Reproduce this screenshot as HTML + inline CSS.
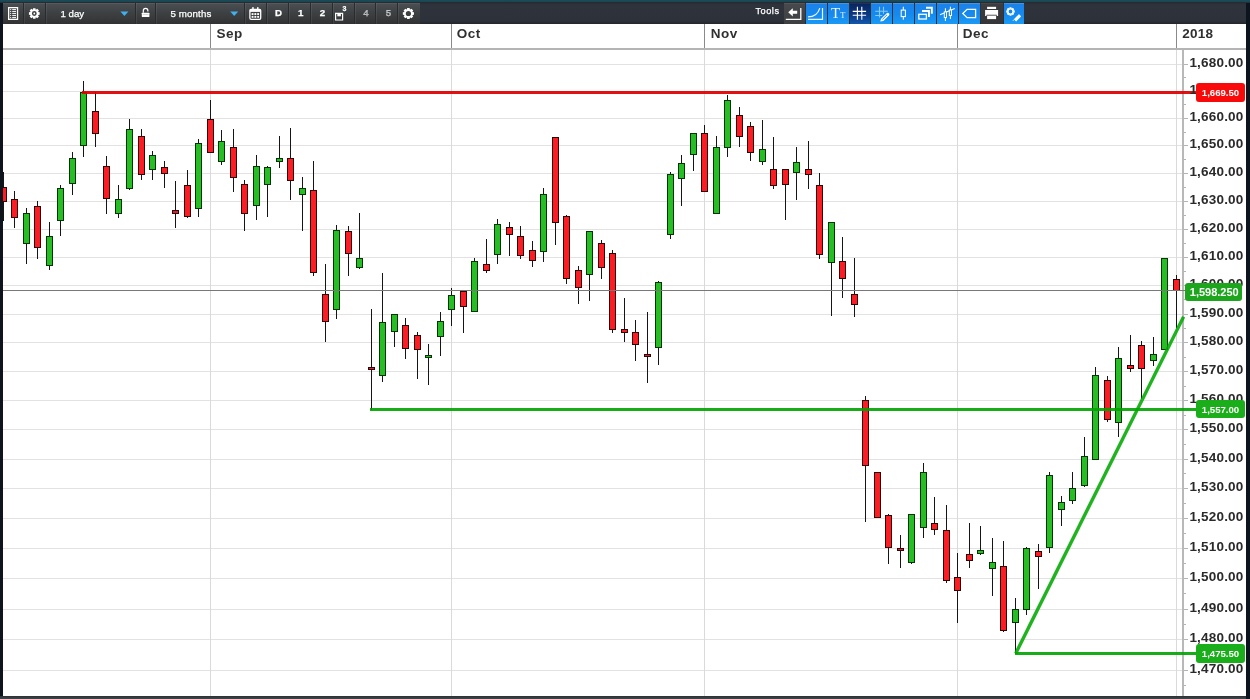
<!DOCTYPE html>
<html><head><meta charset="utf-8"><title>chart</title>
<style>
html,body{margin:0;padding:0}
#all{position:absolute;left:0;top:0;width:1250px;height:699px;will-change:transform}
body{width:1250px;height:699px;overflow:hidden;position:relative;background:#0d141d;font-family:"Liberation Sans",sans-serif}
#chart{position:absolute;left:3px;top:24px;width:1243px;height:672px;background:#fff}
#svg{position:absolute;left:0;top:0}
.ax{position:absolute;left:1189.4px;font-size:13.5px;font-weight:bold;color:#2a2a2a;letter-spacing:.2px;line-height:16px;white-space:nowrap}
.mo{position:absolute;top:26.3px;letter-spacing:.5px;font-size:13.5px;font-weight:bold;color:#303030;line-height:16px}
.tag{position:absolute;color:#fff;font-weight:bold;border-radius:3px;text-align:center;white-space:nowrap}
#top{position:absolute;left:0;top:0;width:1250px;height:3px;background:linear-gradient(#1c4c58 0,#1a4652 55%,#20272c 100%)}
#tb{position:absolute;left:3px;top:2px;width:1243px;height:22px;background:linear-gradient(#262a31 0,#2f333c 3px,#2d313a 19px,#22252b 22px)}
#tbl{position:absolute;left:0;top:1px;width:417px;height:21px;background:linear-gradient(#5b6063 0,#4a4e51 1.5px,#404345 40%,#37393b 75%,#303133 100%)}
.sep{position:absolute;top:1px;width:1px;height:21px;background:#2a2b2d;box-shadow:1px 0 0 rgba(255,255,255,.07)}
.tx{position:absolute;color:#fff;-webkit-text-stroke:.25px #fff;font-size:9.7px;line-height:12px;white-space:nowrap}
.btn{position:absolute;top:1px;height:20.6px;width:21px;background:linear-gradient(#2ea3ef,#0b84de)}
  .tt{position:absolute;color:#fff;font-family:'Liberation Serif',serif;font-size:15px;line-height:16px;opacity:.92}
.tt span{font-size:8.4px}
#bot{position:absolute;left:0;top:696px;width:1246px;height:3px;background:linear-gradient(#2b2e33,#43464b)}
</style></head><body><div id="all">
<div id="top"></div>
<div id="chart"></div>
<svg id="svg" width="1250" height="699" viewBox="0 0 1250 699" shape-rendering="crispEdges">
<defs><clipPath id="cp"><rect x="3" y="24" width="1243" height="672"/></clipPath></defs><g clip-path="url(#cp)"><rect x="3" y="670" width="1179" height="1" fill="#e2e2e2"/>
<rect x="3" y="639" width="1179" height="1" fill="#e2e2e2"/>
<rect x="3" y="609" width="1179" height="1" fill="#e2e2e2"/>
<rect x="3" y="578" width="1179" height="1" fill="#e2e2e2"/>
<rect x="3" y="548" width="1179" height="1" fill="#e2e2e2"/>
<rect x="3" y="518" width="1179" height="1" fill="#e2e2e2"/>
<rect x="3" y="488" width="1179" height="1" fill="#e2e2e2"/>
<rect x="3" y="459" width="1179" height="1" fill="#e2e2e2"/>
<rect x="3" y="429" width="1179" height="1" fill="#e2e2e2"/>
<rect x="3" y="400" width="1179" height="1" fill="#e2e2e2"/>
<rect x="3" y="371" width="1179" height="1" fill="#e2e2e2"/>
<rect x="3" y="342" width="1179" height="1" fill="#e2e2e2"/>
<rect x="3" y="314" width="1179" height="1" fill="#e2e2e2"/>
<rect x="3" y="285" width="1179" height="1" fill="#e2e2e2"/>
<rect x="3" y="257" width="1179" height="1" fill="#e2e2e2"/>
<rect x="3" y="229" width="1179" height="1" fill="#e2e2e2"/>
<rect x="3" y="201" width="1179" height="1" fill="#e2e2e2"/>
<rect x="3" y="173" width="1179" height="1" fill="#e2e2e2"/>
<rect x="3" y="145" width="1179" height="1" fill="#e2e2e2"/>
<rect x="3" y="118" width="1179" height="1" fill="#e2e2e2"/>
<rect x="3" y="91" width="1179" height="1" fill="#e2e2e2"/>
<rect x="3" y="64" width="1179" height="1" fill="#e2e2e2"/>
<rect x="210" y="24" width="1" height="24" fill="#8a8a8a"/>
<rect x="210" y="50" width="1" height="646" fill="#dadada"/>
<rect x="451" y="24" width="1" height="24" fill="#8a8a8a"/>
<rect x="451" y="50" width="1" height="646" fill="#dadada"/>
<rect x="704" y="24" width="1" height="24" fill="#8a8a8a"/>
<rect x="704" y="50" width="1" height="646" fill="#dadada"/>
<rect x="957" y="24" width="1" height="24" fill="#8a8a8a"/>
<rect x="957" y="50" width="1" height="646" fill="#dadada"/>
<rect x="1176" y="24" width="1" height="24" fill="#8a8a8a"/>
<rect x="1176" y="50" width="1" height="646" fill="#dadada"/>
<rect x="3" y="48" width="1243" height="2" fill="#b4b4b4"/>
<rect x="1182" y="50" width="2" height="646" fill="#b8b8b8"/>
<rect x="1184" y="685" width="2" height="1" fill="#b4b4b4"/>
<rect x="1184" y="670" width="4" height="1" fill="#b4b4b4"/>
<rect x="1184" y="654" width="2" height="1" fill="#b4b4b4"/>
<rect x="1184" y="639" width="4" height="1" fill="#b4b4b4"/>
<rect x="1184" y="624" width="2" height="1" fill="#b4b4b4"/>
<rect x="1184" y="609" width="4" height="1" fill="#b4b4b4"/>
<rect x="1184" y="593" width="2" height="1" fill="#b4b4b4"/>
<rect x="1184" y="578" width="4" height="1" fill="#b4b4b4"/>
<rect x="1184" y="563" width="2" height="1" fill="#b4b4b4"/>
<rect x="1184" y="548" width="4" height="1" fill="#b4b4b4"/>
<rect x="1184" y="533" width="2" height="1" fill="#b4b4b4"/>
<rect x="1184" y="518" width="4" height="1" fill="#b4b4b4"/>
<rect x="1184" y="503" width="2" height="1" fill="#b4b4b4"/>
<rect x="1184" y="488" width="4" height="1" fill="#b4b4b4"/>
<rect x="1184" y="473" width="2" height="1" fill="#b4b4b4"/>
<rect x="1184" y="459" width="4" height="1" fill="#b4b4b4"/>
<rect x="1184" y="444" width="2" height="1" fill="#b4b4b4"/>
<rect x="1184" y="429" width="4" height="1" fill="#b4b4b4"/>
<rect x="1184" y="415" width="2" height="1" fill="#b4b4b4"/>
<rect x="1184" y="400" width="4" height="1" fill="#b4b4b4"/>
<rect x="1184" y="386" width="2" height="1" fill="#b4b4b4"/>
<rect x="1184" y="371" width="4" height="1" fill="#b4b4b4"/>
<rect x="1184" y="357" width="2" height="1" fill="#b4b4b4"/>
<rect x="1184" y="342" width="4" height="1" fill="#b4b4b4"/>
<rect x="1184" y="328" width="2" height="1" fill="#b4b4b4"/>
<rect x="1184" y="314" width="4" height="1" fill="#b4b4b4"/>
<rect x="1184" y="299" width="2" height="1" fill="#b4b4b4"/>
<rect x="1184" y="285" width="4" height="1" fill="#b4b4b4"/>
<rect x="1184" y="271" width="2" height="1" fill="#b4b4b4"/>
<rect x="1184" y="257" width="4" height="1" fill="#b4b4b4"/>
<rect x="1184" y="243" width="2" height="1" fill="#b4b4b4"/>
<rect x="1184" y="229" width="4" height="1" fill="#b4b4b4"/>
<rect x="1184" y="215" width="2" height="1" fill="#b4b4b4"/>
<rect x="1184" y="201" width="4" height="1" fill="#b4b4b4"/>
<rect x="1184" y="187" width="2" height="1" fill="#b4b4b4"/>
<rect x="1184" y="173" width="4" height="1" fill="#b4b4b4"/>
<rect x="1184" y="159" width="2" height="1" fill="#b4b4b4"/>
<rect x="1184" y="145" width="4" height="1" fill="#b4b4b4"/>
<rect x="1184" y="132" width="2" height="1" fill="#b4b4b4"/>
<rect x="1184" y="118" width="4" height="1" fill="#b4b4b4"/>
<rect x="1184" y="104" width="2" height="1" fill="#b4b4b4"/>
<rect x="1184" y="91" width="4" height="1" fill="#b4b4b4"/>
<rect x="1184" y="77" width="2" height="1" fill="#b4b4b4"/>
<rect x="1184" y="64" width="4" height="1" fill="#b4b4b4"/>
<rect x="3" y="172" width="1" height="49" fill="#151515"/>
<rect x="0" y="187" width="7" height="15" fill="#300505"/>
<rect x="1" y="188" width="5" height="13" fill="#fb1c24"/>
<rect x="14" y="191" width="1" height="37" fill="#151515"/>
<rect x="11" y="199" width="7" height="19" fill="#300505"/>
<rect x="12" y="200" width="5" height="17" fill="#fb1c24"/>
<rect x="26" y="208" width="1" height="56" fill="#151515"/>
<rect x="23" y="213" width="7" height="31" fill="#063606"/>
<rect x="24" y="214" width="5" height="29" fill="#27bd25"/>
<rect x="37" y="201" width="1" height="58" fill="#151515"/>
<rect x="34" y="206" width="7" height="42" fill="#300505"/>
<rect x="35" y="207" width="5" height="40" fill="#fb1c24"/>
<rect x="49" y="222" width="1" height="48" fill="#151515"/>
<rect x="46" y="236" width="7" height="30" fill="#063606"/>
<rect x="47" y="237" width="5" height="28" fill="#27bd25"/>
<rect x="60" y="185" width="1" height="51" fill="#151515"/>
<rect x="57" y="188" width="7" height="33" fill="#063606"/>
<rect x="58" y="189" width="5" height="31" fill="#27bd25"/>
<rect x="72" y="152" width="1" height="43" fill="#151515"/>
<rect x="69" y="158" width="7" height="26" fill="#063606"/>
<rect x="70" y="159" width="5" height="24" fill="#27bd25"/>
<rect x="83" y="81" width="1" height="76" fill="#151515"/>
<rect x="80" y="92" width="7" height="54" fill="#063606"/>
<rect x="81" y="93" width="5" height="52" fill="#27bd25"/>
<rect x="95" y="92" width="1" height="55" fill="#151515"/>
<rect x="92" y="111" width="7" height="23" fill="#300505"/>
<rect x="93" y="112" width="5" height="21" fill="#fb1c24"/>
<rect x="106" y="156" width="1" height="58" fill="#151515"/>
<rect x="103" y="166" width="7" height="33" fill="#300505"/>
<rect x="104" y="167" width="5" height="31" fill="#fb1c24"/>
<rect x="118" y="185" width="1" height="33" fill="#151515"/>
<rect x="115" y="199" width="7" height="15" fill="#063606"/>
<rect x="116" y="200" width="5" height="13" fill="#27bd25"/>
<rect x="129" y="119" width="1" height="71" fill="#151515"/>
<rect x="126" y="129" width="7" height="60" fill="#063606"/>
<rect x="127" y="130" width="5" height="58" fill="#27bd25"/>
<rect x="141" y="129" width="1" height="51" fill="#151515"/>
<rect x="138" y="136" width="7" height="39" fill="#300505"/>
<rect x="139" y="137" width="5" height="37" fill="#fb1c24"/>
<rect x="152" y="151" width="1" height="29" fill="#151515"/>
<rect x="149" y="155" width="7" height="15" fill="#063606"/>
<rect x="150" y="156" width="5" height="13" fill="#27bd25"/>
<rect x="164" y="161" width="1" height="27" fill="#151515"/>
<rect x="161" y="167" width="7" height="7" fill="#300505"/>
<rect x="162" y="168" width="5" height="5" fill="#fb1c24"/>
<rect x="175" y="181" width="1" height="47" fill="#151515"/>
<rect x="172" y="210" width="7" height="4" fill="#300505"/>
<rect x="173" y="211" width="5" height="2" fill="#d0223a"/>
<rect x="187" y="170" width="1" height="48" fill="#151515"/>
<rect x="184" y="185" width="7" height="32" fill="#300505"/>
<rect x="185" y="186" width="5" height="30" fill="#fb1c24"/>
<rect x="198" y="139" width="1" height="78" fill="#151515"/>
<rect x="195" y="143" width="7" height="66" fill="#063606"/>
<rect x="196" y="144" width="5" height="64" fill="#27bd25"/>
<rect x="210" y="100" width="1" height="53" fill="#151515"/>
<rect x="207" y="119" width="7" height="34" fill="#300505"/>
<rect x="208" y="120" width="5" height="32" fill="#fb1c24"/>
<rect x="221" y="130" width="1" height="35" fill="#151515"/>
<rect x="218" y="141" width="7" height="21" fill="#063606"/>
<rect x="219" y="142" width="5" height="19" fill="#27bd25"/>
<rect x="233" y="129" width="1" height="63" fill="#151515"/>
<rect x="230" y="147" width="7" height="31" fill="#300505"/>
<rect x="231" y="148" width="5" height="29" fill="#fb1c24"/>
<rect x="244" y="180" width="1" height="51" fill="#151515"/>
<rect x="241" y="184" width="7" height="30" fill="#300505"/>
<rect x="242" y="185" width="5" height="28" fill="#fb1c24"/>
<rect x="256" y="155" width="1" height="65" fill="#151515"/>
<rect x="253" y="166" width="7" height="40" fill="#063606"/>
<rect x="254" y="167" width="5" height="38" fill="#27bd25"/>
<rect x="267" y="166" width="1" height="51" fill="#151515"/>
<rect x="264" y="167" width="7" height="18" fill="#063606"/>
<rect x="265" y="168" width="5" height="16" fill="#27bd25"/>
<rect x="279" y="136" width="1" height="32" fill="#151515"/>
<rect x="276" y="158" width="7" height="4" fill="#063606"/>
<rect x="277" y="159" width="5" height="2" fill="#27bd25"/>
<rect x="290" y="128" width="1" height="72" fill="#151515"/>
<rect x="287" y="158" width="7" height="23" fill="#300505"/>
<rect x="288" y="159" width="5" height="21" fill="#fb1c24"/>
<rect x="302" y="177" width="1" height="54" fill="#151515"/>
<rect x="299" y="188" width="7" height="7" fill="#063606"/>
<rect x="300" y="189" width="5" height="5" fill="#27bd25"/>
<rect x="313" y="161" width="1" height="115" fill="#151515"/>
<rect x="310" y="190" width="7" height="83" fill="#300505"/>
<rect x="311" y="191" width="5" height="81" fill="#fb1c24"/>
<rect x="325" y="264" width="1" height="78" fill="#151515"/>
<rect x="322" y="294" width="7" height="28" fill="#300505"/>
<rect x="323" y="295" width="5" height="26" fill="#fb1c24"/>
<rect x="336" y="225" width="1" height="94" fill="#151515"/>
<rect x="333" y="230" width="7" height="80" fill="#063606"/>
<rect x="334" y="231" width="5" height="78" fill="#27bd25"/>
<rect x="348" y="226" width="1" height="50" fill="#151515"/>
<rect x="345" y="231" width="7" height="23" fill="#300505"/>
<rect x="346" y="232" width="5" height="21" fill="#fb1c24"/>
<rect x="359" y="213" width="1" height="56" fill="#151515"/>
<rect x="356" y="258" width="7" height="10" fill="#063606"/>
<rect x="357" y="259" width="5" height="8" fill="#27bd25"/>
<rect x="371" y="309" width="1" height="101" fill="#151515"/>
<rect x="368" y="367" width="7" height="3" fill="#300505"/>
<rect x="369" y="368" width="5" height="1" fill="#d0223a"/>
<rect x="382" y="273" width="1" height="109" fill="#151515"/>
<rect x="379" y="322" width="7" height="54" fill="#063606"/>
<rect x="380" y="323" width="5" height="52" fill="#27bd25"/>
<rect x="394" y="314" width="1" height="33" fill="#151515"/>
<rect x="391" y="314" width="7" height="18" fill="#063606"/>
<rect x="392" y="315" width="5" height="16" fill="#27bd25"/>
<rect x="405" y="318" width="1" height="41" fill="#151515"/>
<rect x="402" y="325" width="7" height="24" fill="#300505"/>
<rect x="403" y="326" width="5" height="22" fill="#fb1c24"/>
<rect x="417" y="332" width="1" height="47" fill="#151515"/>
<rect x="414" y="335" width="7" height="15" fill="#300505"/>
<rect x="415" y="336" width="5" height="13" fill="#fb1c24"/>
<rect x="428" y="344" width="1" height="41" fill="#151515"/>
<rect x="425" y="355" width="7" height="3" fill="#063606"/>
<rect x="426" y="356" width="5" height="1" fill="#27bd25"/>
<rect x="440" y="312" width="1" height="44" fill="#151515"/>
<rect x="437" y="321" width="7" height="16" fill="#063606"/>
<rect x="438" y="322" width="5" height="14" fill="#27bd25"/>
<rect x="451" y="288" width="1" height="38" fill="#151515"/>
<rect x="448" y="295" width="7" height="15" fill="#063606"/>
<rect x="449" y="296" width="5" height="13" fill="#27bd25"/>
<rect x="463" y="290" width="1" height="43" fill="#151515"/>
<rect x="460" y="291" width="7" height="16" fill="#300505"/>
<rect x="461" y="292" width="5" height="14" fill="#fb1c24"/>
<rect x="474" y="258" width="1" height="54" fill="#151515"/>
<rect x="471" y="261" width="7" height="51" fill="#063606"/>
<rect x="472" y="262" width="5" height="49" fill="#27bd25"/>
<rect x="486" y="239" width="1" height="34" fill="#151515"/>
<rect x="483" y="264" width="7" height="7" fill="#300505"/>
<rect x="484" y="265" width="5" height="5" fill="#fb1c24"/>
<rect x="497" y="219" width="1" height="45" fill="#151515"/>
<rect x="494" y="224" width="7" height="31" fill="#063606"/>
<rect x="495" y="225" width="5" height="29" fill="#27bd25"/>
<rect x="509" y="222" width="1" height="34" fill="#151515"/>
<rect x="506" y="227" width="7" height="8" fill="#300505"/>
<rect x="507" y="228" width="5" height="6" fill="#fb1c24"/>
<rect x="520" y="226" width="1" height="33" fill="#151515"/>
<rect x="517" y="236" width="7" height="20" fill="#300505"/>
<rect x="518" y="237" width="5" height="18" fill="#fb1c24"/>
<rect x="532" y="241" width="1" height="26" fill="#151515"/>
<rect x="529" y="250" width="7" height="11" fill="#300505"/>
<rect x="530" y="251" width="5" height="9" fill="#fb1c24"/>
<rect x="543" y="188" width="1" height="74" fill="#151515"/>
<rect x="540" y="194" width="7" height="58" fill="#063606"/>
<rect x="541" y="195" width="5" height="56" fill="#27bd25"/>
<rect x="555" y="137" width="1" height="108" fill="#151515"/>
<rect x="552" y="137" width="7" height="86" fill="#300505"/>
<rect x="553" y="138" width="5" height="84" fill="#fb1c24"/>
<rect x="566" y="215" width="1" height="69" fill="#151515"/>
<rect x="563" y="216" width="7" height="63" fill="#300505"/>
<rect x="564" y="217" width="5" height="61" fill="#fb1c24"/>
<rect x="578" y="266" width="1" height="38" fill="#151515"/>
<rect x="575" y="270" width="7" height="18" fill="#300505"/>
<rect x="576" y="271" width="5" height="16" fill="#fb1c24"/>
<rect x="589" y="231" width="1" height="70" fill="#151515"/>
<rect x="586" y="231" width="7" height="44" fill="#063606"/>
<rect x="587" y="232" width="5" height="42" fill="#27bd25"/>
<rect x="601" y="240" width="1" height="39" fill="#151515"/>
<rect x="598" y="243" width="7" height="25" fill="#300505"/>
<rect x="599" y="244" width="5" height="23" fill="#fb1c24"/>
<rect x="612" y="250" width="1" height="83" fill="#151515"/>
<rect x="609" y="253" width="7" height="77" fill="#300505"/>
<rect x="610" y="254" width="5" height="75" fill="#fb1c24"/>
<rect x="624" y="298" width="1" height="44" fill="#151515"/>
<rect x="621" y="329" width="7" height="4" fill="#300505"/>
<rect x="622" y="330" width="5" height="2" fill="#fb1c24"/>
<rect x="635" y="320" width="1" height="41" fill="#151515"/>
<rect x="632" y="332" width="7" height="13" fill="#300505"/>
<rect x="633" y="333" width="5" height="11" fill="#fb1c24"/>
<rect x="647" y="312" width="1" height="71" fill="#151515"/>
<rect x="644" y="354" width="7" height="3" fill="#300505"/>
<rect x="645" y="355" width="5" height="1" fill="#d0223a"/>
<rect x="658" y="281" width="1" height="84" fill="#151515"/>
<rect x="655" y="282" width="7" height="66" fill="#063606"/>
<rect x="656" y="283" width="5" height="64" fill="#27bd25"/>
<rect x="670" y="172" width="1" height="67" fill="#151515"/>
<rect x="667" y="174" width="7" height="61" fill="#063606"/>
<rect x="668" y="175" width="5" height="59" fill="#27bd25"/>
<rect x="681" y="155" width="1" height="51" fill="#151515"/>
<rect x="678" y="163" width="7" height="16" fill="#063606"/>
<rect x="679" y="164" width="5" height="14" fill="#27bd25"/>
<rect x="693" y="133" width="1" height="38" fill="#151515"/>
<rect x="690" y="133" width="7" height="22" fill="#063606"/>
<rect x="691" y="134" width="5" height="20" fill="#27bd25"/>
<rect x="704" y="125" width="1" height="67" fill="#151515"/>
<rect x="701" y="133" width="7" height="59" fill="#300505"/>
<rect x="702" y="134" width="5" height="57" fill="#fb1c24"/>
<rect x="716" y="136" width="1" height="78" fill="#151515"/>
<rect x="713" y="147" width="7" height="67" fill="#063606"/>
<rect x="714" y="148" width="5" height="65" fill="#27bd25"/>
<rect x="727" y="95" width="1" height="62" fill="#151515"/>
<rect x="724" y="100" width="7" height="48" fill="#063606"/>
<rect x="725" y="101" width="5" height="46" fill="#27bd25"/>
<rect x="739" y="107" width="1" height="40" fill="#151515"/>
<rect x="736" y="115" width="7" height="22" fill="#300505"/>
<rect x="737" y="116" width="5" height="20" fill="#fb1c24"/>
<rect x="750" y="122" width="1" height="39" fill="#151515"/>
<rect x="747" y="126" width="7" height="27" fill="#300505"/>
<rect x="748" y="127" width="5" height="25" fill="#fb1c24"/>
<rect x="762" y="120" width="1" height="45" fill="#151515"/>
<rect x="759" y="149" width="7" height="13" fill="#063606"/>
<rect x="760" y="150" width="5" height="11" fill="#27bd25"/>
<rect x="773" y="137" width="1" height="52" fill="#151515"/>
<rect x="770" y="169" width="7" height="17" fill="#300505"/>
<rect x="771" y="170" width="5" height="15" fill="#fb1c24"/>
<rect x="785" y="169" width="1" height="51" fill="#151515"/>
<rect x="782" y="169" width="7" height="16" fill="#300505"/>
<rect x="783" y="170" width="5" height="14" fill="#fb1c24"/>
<rect x="796" y="147" width="1" height="53" fill="#151515"/>
<rect x="793" y="162" width="7" height="11" fill="#063606"/>
<rect x="794" y="163" width="5" height="9" fill="#27bd25"/>
<rect x="808" y="141" width="1" height="48" fill="#151515"/>
<rect x="805" y="169" width="7" height="6" fill="#300505"/>
<rect x="806" y="170" width="5" height="4" fill="#fb1c24"/>
<rect x="819" y="173" width="1" height="86" fill="#151515"/>
<rect x="816" y="185" width="7" height="70" fill="#300505"/>
<rect x="817" y="186" width="5" height="68" fill="#fb1c24"/>
<rect x="831" y="222" width="1" height="94" fill="#151515"/>
<rect x="828" y="222" width="7" height="41" fill="#063606"/>
<rect x="829" y="223" width="5" height="39" fill="#27bd25"/>
<rect x="842" y="237" width="1" height="61" fill="#151515"/>
<rect x="839" y="261" width="7" height="18" fill="#300505"/>
<rect x="840" y="262" width="5" height="16" fill="#fb1c24"/>
<rect x="854" y="258" width="1" height="59" fill="#151515"/>
<rect x="851" y="294" width="7" height="11" fill="#300505"/>
<rect x="852" y="295" width="5" height="9" fill="#fb1c24"/>
<rect x="865" y="396" width="1" height="126" fill="#151515"/>
<rect x="862" y="400" width="7" height="66" fill="#300505"/>
<rect x="863" y="401" width="5" height="64" fill="#fb1c24"/>
<rect x="877" y="472" width="1" height="46" fill="#151515"/>
<rect x="874" y="472" width="7" height="46" fill="#300505"/>
<rect x="875" y="473" width="5" height="44" fill="#fb1c24"/>
<rect x="888" y="514" width="1" height="50" fill="#151515"/>
<rect x="885" y="515" width="7" height="33" fill="#300505"/>
<rect x="886" y="516" width="5" height="31" fill="#fb1c24"/>
<rect x="900" y="535" width="1" height="33" fill="#151515"/>
<rect x="897" y="548" width="7" height="3" fill="#300505"/>
<rect x="898" y="549" width="5" height="1" fill="#d0223a"/>
<rect x="911" y="514" width="1" height="50" fill="#151515"/>
<rect x="908" y="514" width="7" height="49" fill="#063606"/>
<rect x="909" y="515" width="5" height="47" fill="#27bd25"/>
<rect x="923" y="463" width="1" height="75" fill="#151515"/>
<rect x="920" y="472" width="7" height="56" fill="#063606"/>
<rect x="921" y="473" width="5" height="54" fill="#27bd25"/>
<rect x="934" y="497" width="1" height="38" fill="#151515"/>
<rect x="931" y="523" width="7" height="7" fill="#300505"/>
<rect x="932" y="524" width="5" height="5" fill="#fb1c24"/>
<rect x="946" y="505" width="1" height="78" fill="#151515"/>
<rect x="943" y="530" width="7" height="51" fill="#300505"/>
<rect x="944" y="531" width="5" height="49" fill="#fb1c24"/>
<rect x="957" y="553" width="1" height="70" fill="#151515"/>
<rect x="954" y="577" width="7" height="14" fill="#300505"/>
<rect x="955" y="578" width="5" height="12" fill="#fb1c24"/>
<rect x="969" y="523" width="1" height="45" fill="#151515"/>
<rect x="966" y="554" width="7" height="7" fill="#300505"/>
<rect x="967" y="555" width="5" height="5" fill="#fb1c24"/>
<rect x="980" y="526" width="1" height="29" fill="#151515"/>
<rect x="977" y="550" width="7" height="4" fill="#063606"/>
<rect x="978" y="551" width="5" height="2" fill="#27bd25"/>
<rect x="992" y="538" width="1" height="58" fill="#151515"/>
<rect x="989" y="562" width="7" height="7" fill="#063606"/>
<rect x="990" y="563" width="5" height="5" fill="#27bd25"/>
<rect x="1003" y="541" width="1" height="91" fill="#151515"/>
<rect x="1000" y="566" width="7" height="65" fill="#300505"/>
<rect x="1001" y="567" width="5" height="63" fill="#fb1c24"/>
<rect x="1015" y="598" width="1" height="56" fill="#151515"/>
<rect x="1012" y="609" width="7" height="14" fill="#063606"/>
<rect x="1013" y="610" width="5" height="12" fill="#27bd25"/>
<rect x="1026" y="547" width="1" height="68" fill="#151515"/>
<rect x="1023" y="548" width="7" height="62" fill="#063606"/>
<rect x="1024" y="549" width="5" height="60" fill="#27bd25"/>
<rect x="1038" y="544" width="1" height="45" fill="#151515"/>
<rect x="1035" y="551" width="7" height="6" fill="#300505"/>
<rect x="1036" y="552" width="5" height="4" fill="#fb1c24"/>
<rect x="1049" y="472" width="1" height="81" fill="#151515"/>
<rect x="1046" y="475" width="7" height="73" fill="#063606"/>
<rect x="1047" y="476" width="5" height="71" fill="#27bd25"/>
<rect x="1061" y="496" width="1" height="30" fill="#151515"/>
<rect x="1058" y="502" width="7" height="8" fill="#063606"/>
<rect x="1059" y="503" width="5" height="6" fill="#27bd25"/>
<rect x="1072" y="472" width="1" height="32" fill="#151515"/>
<rect x="1069" y="488" width="7" height="13" fill="#063606"/>
<rect x="1070" y="489" width="5" height="11" fill="#27bd25"/>
<rect x="1084" y="437" width="1" height="50" fill="#151515"/>
<rect x="1081" y="456" width="7" height="30" fill="#063606"/>
<rect x="1082" y="457" width="5" height="28" fill="#27bd25"/>
<rect x="1095" y="367" width="1" height="93" fill="#151515"/>
<rect x="1092" y="375" width="7" height="85" fill="#063606"/>
<rect x="1093" y="376" width="5" height="83" fill="#27bd25"/>
<rect x="1107" y="376" width="1" height="46" fill="#151515"/>
<rect x="1104" y="380" width="7" height="40" fill="#300505"/>
<rect x="1105" y="381" width="5" height="38" fill="#fb1c24"/>
<rect x="1118" y="347" width="1" height="90" fill="#151515"/>
<rect x="1115" y="358" width="7" height="65" fill="#063606"/>
<rect x="1116" y="359" width="5" height="63" fill="#27bd25"/>
<rect x="1130" y="335" width="1" height="37" fill="#151515"/>
<rect x="1127" y="365" width="7" height="4" fill="#300505"/>
<rect x="1128" y="366" width="5" height="2" fill="#fb1c24"/>
<rect x="1141" y="341" width="1" height="58" fill="#151515"/>
<rect x="1138" y="345" width="7" height="24" fill="#300505"/>
<rect x="1139" y="346" width="5" height="22" fill="#fb1c24"/>
<rect x="1153" y="337" width="1" height="29" fill="#151515"/>
<rect x="1150" y="354" width="7" height="7" fill="#063606"/>
<rect x="1151" y="355" width="5" height="5" fill="#27bd25"/>
<rect x="1164" y="258" width="1" height="92" fill="#151515"/>
<rect x="1161" y="258" width="7" height="92" fill="#063606"/>
<rect x="1162" y="259" width="5" height="90" fill="#27bd25"/>
<rect x="1176" y="275" width="1" height="53" fill="#151515"/>
<rect x="1173" y="279" width="7" height="12" fill="#300505"/>
<rect x="1174" y="280" width="5" height="10" fill="#fb1c24"/>
<rect x="3" y="290" width="1182" height="1" fill="#787878"/>
<rect x="82" y="91" width="1114" height="3" fill="#e00000" fill-opacity=".93"/>
<rect x="370" y="408" width="826" height="3" fill="#00a300" fill-opacity=".9"/>
<rect x="1015" y="652" width="181" height="3" fill="#00a300" fill-opacity=".9"/>
<line x1="1015.7" y1="653.4" x2="1183.6" y2="316.8" stroke="#00a800" stroke-opacity=".88" stroke-width="3.4" stroke-linecap="butt" shape-rendering="auto"/></g>
</svg>
<div class="mo" style="left:216.6px">Sep</div>
<div class="mo" style="left:456.8px">Oct</div>
<div class="mo" style="left:710.8px">Nov</div>
<div class="mo" style="left:962.8px">Dec</div>
<div class="mo" style="left:1182.3px;letter-spacing:.2px">2018</div>
<div class="ax" style="top:660.9px">1,470.00</div>
<div class="ax" style="top:630.3px">1,480.00</div>
<div class="ax" style="top:599.9px">1,490.00</div>
<div class="ax" style="top:569.1px">1,500.00</div>
<div class="ax" style="top:539.2px">1,510.00</div>
<div class="ax" style="top:508.9px">1,520.00</div>
<div class="ax" style="top:479.4px">1,530.00</div>
<div class="ax" style="top:449.9px">1,540.00</div>
<div class="ax" style="top:420.2px">1,550.00</div>
<div class="ax" style="top:391.2px">1,560.00</div>
<div class="ax" style="top:361.9px">1,570.00</div>
<div class="ax" style="top:333.4px">1,580.00</div>
<div class="ax" style="top:304.9px">1,590.00</div>
<div class="ax" style="top:276.3px">1,600.00</div>
<div class="ax" style="top:248.2px">1,610.00</div>
<div class="ax" style="top:220.2px">1,620.00</div>
<div class="ax" style="top:192.1px">1,630.00</div>
<div class="ax" style="top:164.1px">1,640.00</div>
<div class="ax" style="top:136.3px">1,650.00</div>
<div class="ax" style="top:109.0px">1,660.00</div>
<div class="ax" style="top:81.8px">1,670.00</div>
<div class="ax" style="top:54.8px">1,680.00</div>
<div class="tag" style="left:1196px;top:83px;width:49px;height:18.5px;line-height:20px;font-size:9.6px;background:#f90a0a">1,669.50</div>
<div class="tag" style="left:1185px;top:282.5px;width:57px;height:18px;line-height:18.6px;font-size:11px;text-indent:1.5px;background:#1da51d">1,598.250</div>
<div class="tag" style="left:1196px;top:400.3px;width:49px;height:18px;line-height:19.6px;font-size:9.6px;background:#1aae1a">1,557.00</div>
<div class="tag" style="left:1196px;top:644.3px;width:49px;height:18.3px;line-height:19.6px;font-size:9.6px;background:#1aae1a">1,475.50</div>
<div id="tb"><div id="tbl"></div>
<div class="sep" style="left:20.0px"></div>
<div class="sep" style="left:42.0px"></div>
<div class="sep" style="left:132.0px"></div>
<div class="sep" style="left:152.0px"></div>
<div class="sep" style="left:241.0px"></div>
<div class="sep" style="left:262.5px"></div>
<div class="sep" style="left:284.5px"></div>
<div class="sep" style="left:306.5px"></div>
<div class="sep" style="left:328.5px"></div>
<div class="sep" style="left:350.5px"></div>
<div class="sep" style="left:372.3px"></div>
<div class="sep" style="left:394.4px"></div>
<div class="tx" style="left:57.5px;top:5.5px;">1 day</div>
<div class="tx" style="left:167.4px;top:5.7px;letter-spacing:.15px">5 months</div>
<div class="tx" style="left:265.5px;width:20px;text-align:center;top:4.9px;font-weight:bold">D</div>
<div class="tx" style="left:287.6px;width:20px;text-align:center;top:4.9px;font-weight:bold">1</div>
<div class="tx" style="left:309.5px;width:20px;text-align:center;top:4.9px;font-weight:bold">2</div>
<div class="tx" style="left:353.0px;width:20px;text-align:center;top:4.9px;color:#8c8f92">4</div>
<div class="tx" style="left:375.4px;width:20px;text-align:center;top:4.9px;color:#8c8f92">5</div>
<div class="tx" style="left:339.6px;top:2.5999999999999996px;font-size:7px;font-weight:bold;line-height:8px">3</div>
<div class="tx" style="left:752.4px;top:2.6px;font-size:9.2px;letter-spacing:.55px">Tools</div>
<div class="btn" style="left:781.1px;width:21.0px;background:linear-gradient(#5a5c5f 0,#47494c 1.5px,#3c3e41 100%)"></div>
<div class="btn" style="left:803.0px;width:20.9px;background:linear-gradient(#49a4ee 0,#1b82ea 1.5px,#1588ee 50%,#1a9af4 100%)"></div>
<div class="btn" style="left:824.8px;width:20.9px;background:linear-gradient(#49a4ee 0,#1b82ea 1.5px,#1588ee 50%,#1a9af4 100%)"></div>
<div class="btn" style="left:846.6px;width:20.9px;background:linear-gradient(#1b3a78 0,#0a2660 1.5px,#0c3a86 60%,#1258ac 100%)"></div>
<div class="btn" style="left:868.4px;width:21.0px;background:linear-gradient(#49a4ee 0,#1b82ea 1.5px,#1588ee 50%,#1a9af4 100%)"></div>
<div class="btn" style="left:890.3px;width:21.0px;background:linear-gradient(#49a4ee 0,#1b82ea 1.5px,#1588ee 50%,#1a9af4 100%)"></div>
<div class="btn" style="left:912.2px;width:21.0px;background:linear-gradient(#49a4ee 0,#1b82ea 1.5px,#1588ee 50%,#1a9af4 100%)"></div>
<div class="btn" style="left:934.1px;width:21.1px;background:linear-gradient(#49a4ee 0,#1b82ea 1.5px,#1588ee 50%,#1a9af4 100%)"></div>
<div class="btn" style="left:956.1px;width:21.0px;background:linear-gradient(#49a4ee 0,#1b82ea 1.5px,#1588ee 50%,#1a9af4 100%)"></div>
<div class="btn" style="left:978.0px;width:21.8px;background:linear-gradient(#4c4e51 0,#3c3d40 1.5px,#343538 100%)"></div>
<div class="btn" style="left:1000.7px;width:20.2px;background:linear-gradient(#49a4ee 0,#1b82ea 1.5px,#1588ee 50%,#1a9af4 100%)"></div>
<div class="tt" style="left:828.0px;top:3.3px">T<span>T</span></div>
<svg style="position:absolute;left:-3px;top:-2px" width="1250" height="26" viewBox="0 0 1250 26"><rect x="8.65" y="7.65" width="8.9" height="11.7" fill="none" stroke="#fff" stroke-width="1.3"/>
<rect x="10.1" y="9.10" width="1.1" height="1" fill="#fff"/>
<rect x="12.2" y="9.10" width="3.8" height="1" fill="#fff"/>
<rect x="10.1" y="11.10" width="1.1" height="1" fill="#fff"/>
<rect x="12.2" y="11.10" width="3.8" height="1" fill="#fff"/>
<rect x="10.1" y="13.10" width="1.1" height="1" fill="#fff"/>
<rect x="12.2" y="13.10" width="3.8" height="1" fill="#fff"/>
<rect x="10.1" y="15.10" width="1.1" height="1" fill="#fff"/>
<rect x="12.2" y="15.10" width="3.8" height="1" fill="#fff"/>
<rect x="10.1" y="17.10" width="1.1" height="1" fill="#fff"/>
<rect x="12.2" y="17.10" width="3.8" height="1" fill="#fff"/>
<path d="M33.12,8.13 L35.48,8.13 L35.76,9.78 L35.90,9.84 L37.27,8.87 L38.93,10.53 L37.96,11.90 L38.02,12.04 L39.67,12.32 L39.67,14.68 L38.02,14.96 L37.96,15.10 L38.93,16.47 L37.27,18.13 L35.90,17.16 L35.76,17.22 L35.48,18.87 L33.12,18.87 L32.84,17.22 L32.70,17.16 L31.33,18.13 L29.67,16.47 L30.64,15.10 L30.58,14.96 L28.93,14.68 L28.93,12.32 L30.58,12.04 L30.64,11.90 L29.67,10.53 L31.33,8.87 L32.70,9.84 L32.84,9.78Z M31.90,13.50 a2.4,2.4 0 1,0 4.8,0 a2.4,2.4 0 1,0 -4.8,0Z" fill="#fff" fill-rule="evenodd"/>
<circle cx="34.3" cy="13.5" r="0.9" fill="#fff"/>
<path d="M120.4,11.6 h8 l-4,4.4z" fill="#3fb2ee"/>
<path d="M230.2,11.6 h8 l-4,4.4z" fill="#3fb2ee"/>
<rect x="141.8" y="12.7" width="7.6" height="4.3" rx="0.6" fill="#fff"/>
<path d="M143.3,12.7 v-2 a2.3,2.3 0 0 1 4.6,0 v0.9" fill="none" stroke="#fff" stroke-width="1.2"/>
<rect x="142.6" y="14.3" width="6" height="0.7" fill="#c8c8c8"/>
<rect x="249.9" y="9.3" width="10.8" height="10" rx="1.2" fill="none" stroke="#fff" stroke-width="1.3"/>
<rect x="249.9" y="9.3" width="10.8" height="2.6" fill="#fff"/>
<rect x="252.2" y="6.9" width="1.5" height="4" rx="0.7" fill="#fff"/>
<rect x="257" y="6.9" width="1.5" height="4" rx="0.7" fill="#fff"/>
<rect x="251.6" y="13.1" width="1.9" height="1.9" fill="#fff"/>
<rect x="254.4" y="13.1" width="1.9" height="1.9" fill="#fff"/>
<rect x="257.2" y="13.1" width="1.9" height="1.9" fill="#fff"/>
<rect x="251.6" y="15.9" width="1.9" height="1.9" fill="#fff"/>
<rect x="254.4" y="15.9" width="1.9" height="1.9" fill="#fff"/>
<rect x="257.2" y="15.9" width="1.9" height="1.9" fill="#fff"/>
<path d="M335.6,13.4 h7 v6.6 h-7z" fill="none" stroke="#fff" stroke-width="1.2"/>
<rect x="337.3" y="13.4" width="3.6" height="2.9" fill="#fff"/>
<path d="M407.18,7.93 L409.62,7.93 L409.97,9.50 L410.12,9.56 L411.47,8.70 L413.20,10.43 L412.34,11.78 L412.40,11.93 L413.97,12.28 L413.97,14.72 L412.40,15.07 L412.34,15.22 L413.20,16.57 L411.47,18.30 L410.12,17.44 L409.97,17.50 L409.62,19.07 L407.18,19.07 L406.83,17.50 L406.68,17.44 L405.33,18.30 L403.60,16.57 L404.46,15.22 L404.40,15.07 L402.83,14.72 L402.83,12.28 L404.40,11.93 L404.46,11.78 L403.60,10.43 L405.33,8.70 L406.68,9.56 L406.83,9.50Z M405.80,13.50 a2.6,2.6 0 1,0 5.2,0 a2.6,2.6 0 1,0 -5.2,0Z" fill="#fff" fill-rule="evenodd"/>
<path d="M788.2,12.3 l4.6,-4.1 v2.6 h4.4 v3 h-4.4 v2.6z" fill="#fff"/>
<path d="M800.8,8 v11.4 h-15" stroke="#fff" fill="none" stroke-width="1.3"/>
<path d="M808,16.9 c5.4,0 10,-2.6 11.8,-8.8" stroke="#fff" fill="none" stroke-width="1.2" stroke-opacity=".92"/>
<path d="M822.5,7.9 v11.5 h-14.5" stroke="#fff" fill="none" stroke-width="1.2" stroke-opacity=".92"/>
<path d="M857.4,6.8 v13 M861.8,6.8 v13 M852.7,11.4 h13.4 M852.7,15.3 h13.4" stroke="#fff" fill="none" stroke-width="1.1"/>
<path d="M879.5,6.8 v10.6 M883.5,6.8 v7 M875.2,11.2 h12.6 M875.2,15.5 h7" stroke="#9ad6fb" fill="none" stroke-width="1.1" stroke-opacity=".85"/>
<path d="M880.2,21.4 l0.9,-2.6 5.6,-5.6 a1.55,1.55 0 0 1 2.2,2.2 l-5.6,5.6z" fill="#fff"/>
<path d="M882.4,19.4 l4.6,-4.6" stroke="#1a6fc8" stroke-width="0.8" fill="none"/>
<path d="M903.3,6.8 v13" stroke="#fff" fill="none" stroke-width="1.05"/>
<rect x="901.2" y="10.1" width="4.2" height="6.5" fill="#1688ee" stroke="#fff" stroke-width="1.05"/>
<path d="M926,6.8 h6.8 v6.9 h-1.9 v-5 h-4.9z" fill="#fff"/>
<path d="M922,10 h7.9 v6.9 h-1.9 v-5 h-6z" fill="#fff"/>
<rect x="918.8" y="14.3" width="7.6" height="4.7" stroke="#fff" fill="none" stroke-width="1.3"/>
<path d="M945.4,8.3 v12.6 M950.4,6.8 v12.2 M940,14.8 L954.8,8.6" stroke="#fff" fill="none" stroke-width="1.05"/>
<rect x="944.3" y="11.9" width="2.2" height="5.7" fill="#1688ee" stroke="#fff" stroke-width="1"/>
<rect x="949.3" y="10" width="2.2" height="5.5" fill="#1688ee" stroke="#fff" stroke-width="1"/>
<path d="M962.8,13.5 l4.3,-4.1 h8.5 v8.2 h-8.5z" stroke="#fff" fill="none" stroke-width="1.3"/>
<rect x="987.1" y="6.8" width="9" height="2.2" fill="#fff"/>
<path d="M985.1,10.1 h13 v5.9 h-1.4 v-1.2 h-10.2 v1.2 h-1.4z" fill="#fff"/>
<rect x="987.1" y="15.6" width="9" height="3.5" fill="#fff"/>
<path d="M1009.56,7.20 L1011.44,7.20 L1011.67,8.52 L1011.78,8.57 L1012.87,7.79 L1014.21,9.13 L1013.43,10.22 L1013.48,10.33 L1014.80,10.56 L1014.80,12.44 L1013.48,12.67 L1013.43,12.78 L1014.21,13.87 L1012.87,15.21 L1011.78,14.43 L1011.67,14.48 L1011.44,15.80 L1009.56,15.80 L1009.33,14.48 L1009.22,14.43 L1008.13,15.21 L1006.79,13.87 L1007.57,12.78 L1007.52,12.67 L1006.20,12.44 L1006.20,10.56 L1007.52,10.33 L1007.57,10.22 L1006.79,9.13 L1008.13,7.79 L1009.22,8.57 L1009.33,8.52Z M1008.60,11.50 a1.9,1.9 0 1,0 3.8,0 a1.9,1.9 0 1,0 -3.8,0Z" fill="#fff" fill-rule="evenodd"/>
<path d="M1013.9,19.2 l4.7,-4.7 a0.5,0.5 0 0 1 0.7,0 l1.5,1.5 a0.5,0.5 0 0 1 0,0.7 l-4.7,4.7z" fill="#fff"/>
<path d="M1012.5,20.7 l0.7,-1.1 0.9,0.9z" fill="#fff"/></svg>
</div>
<div id="bot"></div>
</div></body></html>
